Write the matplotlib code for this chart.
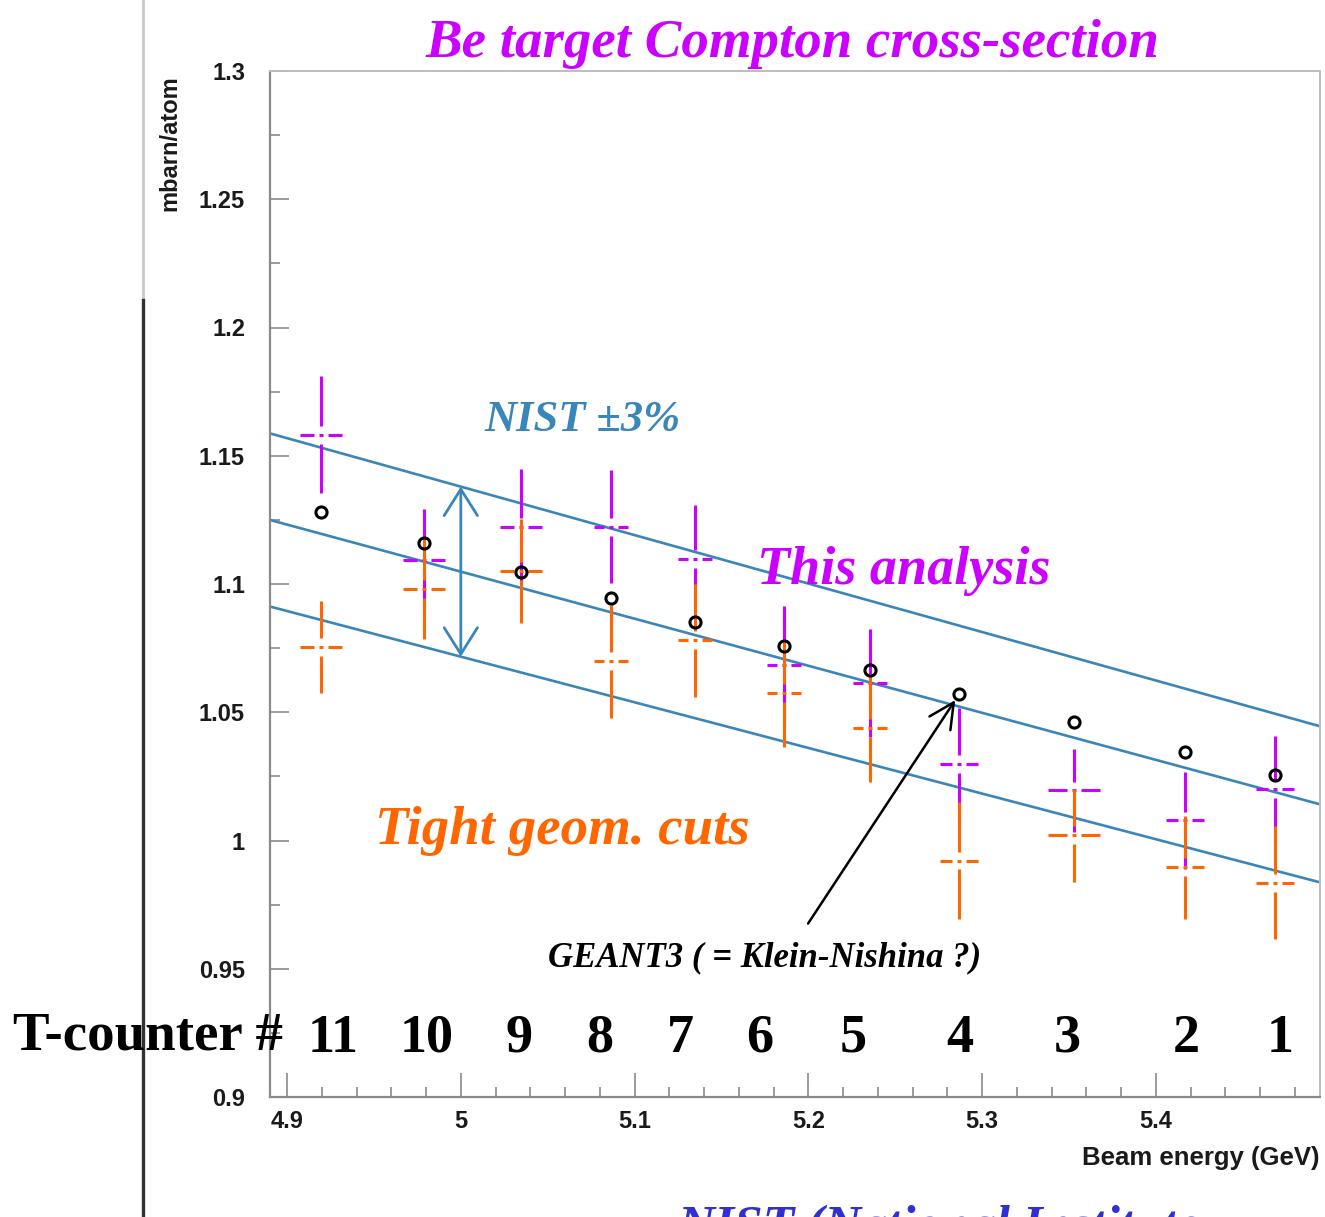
import numpy as np
import matplotlib.pyplot as plt
from matplotlib.lines import Line2D
from matplotlib.ticker import MultipleLocator, FormatStrFormatter

# beam energy of each T-counter (GeV), counters 11 -> 1
energy = [4.9196, 4.9788, 5.0346, 5.0864, 5.1348, 5.1860, 5.2354, 5.2867, 5.3528, 5.4167, 5.4685]
energy_err = [0.012, 0.012, 0.012, 0.010, 0.010, 0.010, 0.010, 0.011, 0.015, 0.011, 0.011]
counters = ['11', '10', '9', '8', '7', '6', '5', '4', '3', '2', '1']

# GEANT3 cross-section (mbarn/atom)
geant = [1.1281, 1.1160, 1.1047, 1.0945, 1.0852, 1.0758, 1.0664, 1.0570, 1.0461, 1.0344, 1.0254]

# this analysis
xs_all = [1.1582, 1.1094, 1.1223, 1.1223, 1.1098, 1.0684, 1.0613, 1.0297, 1.0195, 1.0078, 1.0199]
xs_all_err = [0.0227, 0.0200, 0.0227, 0.0220, 0.0210, 0.0230, 0.0210, 0.0220, 0.0160, 0.0190, 0.0210]

# tight geometrical cuts
xs_tight = [1.0754, 1.0980, 1.1051, 1.0699, 1.0781, 1.0574, 1.0438, 0.9922, 1.0020, 0.9895, 0.9836]
xs_tight_err = [0.0180, 0.0195, 0.0203, 0.0220, 0.0220, 0.0210, 0.0210, 0.0227, 0.0180, 0.0200, 0.0220]

# NIST value across the energy range
nist_energy = [4.89, 5.495]
nist_xs = [1.1250, 1.0140]

MAGENTA = '#cc00ff'
ORANGE = '#ff6600'
BLUE = '#3a86b8'
SERIF = ['Liberation Serif', 'DejaVu Serif']
SANS = ['Liberation Sans Narrow', 'Liberation Sans', 'DejaVu Sans']

W, H = 1325, 1217
fig = plt.figure(figsize=(W / 100, H / 100), dpi=100)


def fx(px):
    return px / W


def fy(py):
    return 1 - py / H


ax = fig.add_axes([fx(270), fy(1097), 1050 / W, 1026 / H])
ax.set_xlim(4.8902, 5.4944)
ax.set_ylim(0.9, 1.3)

for side in ['left', 'bottom']:
    ax.spines[side].set_color('#8a8a8a')
    ax.spines[side].set_linewidth(1.6)
for side in ['top', 'right']:
    ax.spines[side].set_color('#bdbdbd')
    ax.spines[side].set_linewidth(1.4)

ax.xaxis.set_major_locator(MultipleLocator(0.1))
ax.xaxis.set_minor_locator(MultipleLocator(0.02))
ax.yaxis.set_major_locator(MultipleLocator(0.05))
ax.yaxis.set_minor_locator(MultipleLocator(0.025))
ax.xaxis.set_major_formatter(FormatStrFormatter('%g'))
ax.yaxis.set_major_formatter(FormatStrFormatter('%g'))
ax.tick_params(which='both', direction='in', color='#8a8a8a', width=1.2)
ax.tick_params(which='major', length=17)
ax.tick_params(which='minor', length=7)
ax.tick_params(axis='y', which='major', length=14, pad=18)
ax.tick_params(axis='x', which='major', pad=9)
for lab in ax.get_xticklabels() + ax.get_yticklabels():
    lab.set_family(SANS)
    lab.set_fontsize(17)
    lab.set_fontweight('bold')
    lab.set_color('#1a1a1a')


def cross(x, y, dx, dy, color):
    x, y, dx, dy = map(np.asarray, (x, y, dx, dy))
    gx, gy, dot = 0.004, 0.0035, 0.0012
    kw = dict(color=color, lw=2.2)
    ax.vlines(x, y + gy, y + dy, **kw)
    ax.vlines(x, y - dy, y - gy, **kw)
    ax.hlines(y, x - dx, x - gx, **kw)
    ax.hlines(y, x + gx, x + dx, **kw)
    ax.hlines(y, x - dot, x + dot, **kw)


# NIST and +-3% band
nist = np.array(nist_xs)
for scale in [1.03, 1.0, 0.97]:
    ax.plot(nist_energy, nist * scale, color=BLUE, lw=1.9)

cross(energy, xs_all, energy_err, xs_all_err, MAGENTA)
cross(energy, xs_tight, energy_err, xs_tight_err, ORANGE)

ax.plot(energy, geant, 'o', ms=8, mfc='none', mec='black', mew=2.2)

# double arrow showing the band width at 5 GeV
e0 = 5.0
x_mid = np.interp(e0, nist_energy, nist_xs)
ax.annotate('', xy=(e0, x_mid * 1.03), xytext=(e0, x_mid * 0.97),
            arrowprops=dict(arrowstyle='<->,head_length=0.95,head_width=0.6',
                            color=BLUE, lw=2, mutation_scale=20,
                            shrinkA=0, shrinkB=0))

# arrow to the GEANT3 point of counter 4
ax.annotate('', xy=(energy[7], geant[7]), xytext=(5.1998, 0.9676),
            arrowprops=dict(arrowstyle='->,head_length=0.9,head_width=0.45',
                            color='black', lw=1.8, mutation_scale=20,
                            shrinkA=0, shrinkB=5))

lab_kw = dict(family=SERIF, style='italic', weight='bold')
ax.text(5.0133, 1.1598, 'NIST \u00b13%', color=BLUE, fontsize=32, **lab_kw)
ax.text(5.1704, 1.1000, 'This analysis', color=MAGENTA, fontsize=39, **lab_kw)
ax.text(4.9506, 0.9988, 'Tight geom. cuts', color=ORANGE, fontsize=39.5, **lab_kw)
ax.text(5.0502, 0.9508, 'GEANT3 ( = Klein-Nishina ?)', color='black', fontsize=25, **lab_kw)

# T-counter numbers along the bottom
label_x = [4.9265, 4.9806, 5.0335, 5.0801, 5.1261, 5.1722, 5.2257, 5.2872, 5.3488, 5.4173, 5.4713]
for xl, c in zip(label_x, counters):
    ax.text(xl, 0.9176, c, ha='center', va='baseline', fontsize=39,
            family=SERIF, weight='bold', color='black')
fig.text(fx(13), fy(1050), 'T-counter #', ha='left', va='baseline', fontsize=39.5,
         family=SERIF, weight='bold', color='black')

fig.text(fx(792), fy(57), 'Be target Compton cross-section', ha='center', va='baseline',
         color=MAGENTA, fontsize=39.5, **lab_kw)
fig.text(fx(170), fy(75), 'mbarn/atom', rotation=90, ha='center', va='top',
         fontsize=17, family=SANS, weight='bold', color='#1a1a1a')
fig.text(fx(1320), fy(1158), 'Beam energy (GeV)', ha='right', va='center',
         fontsize=18.5, family=SANS, weight='bold', color='#1a1a1a')
fig.text(fx(677), fy(1240), 'NIST (National Institute', ha='left',
         va='baseline', fontsize=37, color='#3030d0', **lab_kw)

# separator line on the left
fig.add_artist(Line2D([fx(143), fx(143)], [fy(0), fy(300)], color='#c8c8c8', lw=2))
fig.add_artist(Line2D([fx(143), fx(143)], [fy(300), fy(H)], color='#333333', lw=2.4))

fig.savefig('out.png', dpi=100)
